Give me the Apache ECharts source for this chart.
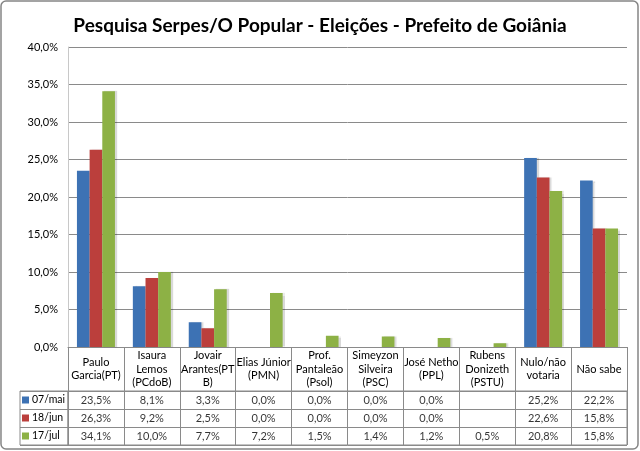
<!DOCTYPE html>
<html><head><meta charset="utf-8">
<script src="https://cdn.jsdelivr.net/npm/echarts@6/dist/echarts.min.js"></script>
<style>html,body{margin:0;padding:0;background:#fff}#c{width:640px;height:451px}</style>
</head><body><div id="c"></div>
<script>
const categories = ['Paulo\nGarcia(PT)','Isaura\nLemos\n(PCdoB)','Jovair\nArantes(PT\nB)','Elias Júnior\n(PMN)','Prof.\nPantaleão\n(Psol)','Simeyzon\nSilveira\n(PSC)','José Netho\n(PPL)','Rubens\nDonizeth\n(PSTU)','Nulo/não\nvotaria','Não sabe'];
const seriesNames = ['07/mai','18/jun','17/jul'];
const mai = [23.5, 8.1, 3.3, 0.0, 0.0, 0.0, 0.0, null, 25.2, 22.2];
const jun = [26.3, 9.2, 2.5, 0.0, 0.0, 0.0, 0.0, null, 22.6, 15.8];
const jul = [34.1, 10.0, 7.7, 7.2, 1.5, 1.4, 1.2, 0.5, 20.8, 15.8];
const yMin = 0, yMax = 40, yStep = 5;
const titleText = 'Pesquisa Serpes/O Popular - Eleições - Prefeito de Goiânia';
const colors = ['#3d72b4','#bb3f3c','#8db145'];

const FONT = 'Lato';
const fmt = v => (v === null || v === undefined) ? '' : v.toFixed(1).replace('.', ',') + '%';
const allSeries = [mai, jun, jul];
const tableData = [];
allSeries.forEach((arr, r) => arr.forEach((v, i) => tableData.push([i, r, v])));

const chart = echarts.init(document.getElementById('c'), null, {renderer: 'canvas'});
const LINE = '#8a8a8a';
chart.setOption({
  animation: false,
  color: colors,
  title: {text: titleText, left: 'center', top: 11,
    textStyle: {fontFamily: FONT, fontWeight: 'bold', fontSize: 19, color: '#000'}},
  legend: {data: seriesNames, orient: 'vertical', left: 22, top: 393, padding: 0, itemWidth: 7, itemHeight: 7,
    itemGap: 4, icon: 'rect', selectedMode: false,
    textStyle: {fontFamily: FONT, fontSize: 10.5, color: '#000', lineHeight: 14, padding: [0,0,0,-2]}},
  graphic: [{type: 'rect', shape: {x: 1, y: 1, width: 637, height: 448, r: 5},
    style: {fill: 'none', stroke: '#858585', lineWidth: 1.5}, silent: true, z: 100}],
  grid: [
    {left: 68, top: 47, width: 559, height: 300},
    {left: 68, top: 391, width: 559, height: 54, show: true, borderColor: LINE, borderWidth: 1},
    {left: 20, top: 391, width: 48, height: 54, show: true, borderColor: LINE, borderWidth: 1}
  ],
  xAxis: [
    {type: 'category', gridIndex: 0, data: categories,
      axisLine: {lineStyle: {color: LINE}},
      axisTick: {show: true, interval: 0, length: 44, lineStyle: {color: LINE}},
      axisLabel: {interval: 0, margin: 22, verticalAlign: 'middle', lineHeight: 13.5,
        fontFamily: FONT, fontSize: 11, color: '#000'}},
    {type: 'category', gridIndex: 1, data: categories, axisLine: {show: false}, axisTick: {show: false},
      axisLabel: {show: false}, splitLine: {show: true, interval: 0, lineStyle: {color: LINE}}},
    {type: 'value', gridIndex: 2, show: false}
  ],
  yAxis: [
    {type: 'value', gridIndex: 0, min: yMin, max: yMax, interval: yStep,
      axisLine: {show: true, lineStyle: {color: '#c8c8c8'}}, axisTick: {show: false},
      splitLine: {lineStyle: {color: LINE}},
      axisLabel: {formatter: v => fmt(v), margin: 10, fontFamily: FONT, fontSize: 11, color: '#000'}},
    {type: 'category', gridIndex: 1, data: seriesNames, inverse: true, axisLine: {show: false},
      axisTick: {show: false}, axisLabel: {show: false},
      splitLine: {show: true, interval: 0, lineStyle: {color: LINE}}},
    {type: 'category', gridIndex: 2, data: seriesNames, inverse: true, axisLine: {show: false},
      axisTick: {show: false}, axisLabel: {show: false},
      splitLine: {show: true, interval: 0, lineStyle: {color: LINE}}}
  ],
  series: [
    ...seriesNames.map((n, k) => ({
      name: n, type: 'bar', xAxisIndex: 0, yAxisIndex: 0, data: allSeries[k],
      barGap: '0%', barCategoryGap: '32%',
      itemStyle: {shadowColor: 'rgba(0,0,0,0.15)', shadowOffsetX: 2, shadowBlur: 1}
    })),
    {type: 'scatter', xAxisIndex: 1, yAxisIndex: 1, data: tableData, symbolSize: 1,
      itemStyle: {color: 'rgba(0,0,0,0)'}, silent: true,
      label: {show: true, position: 'inside', formatter: p => fmt(p.value[2]),
        fontFamily: FONT, fontSize: 11, color: '#000'}}
  ]
});
</script></body></html>
